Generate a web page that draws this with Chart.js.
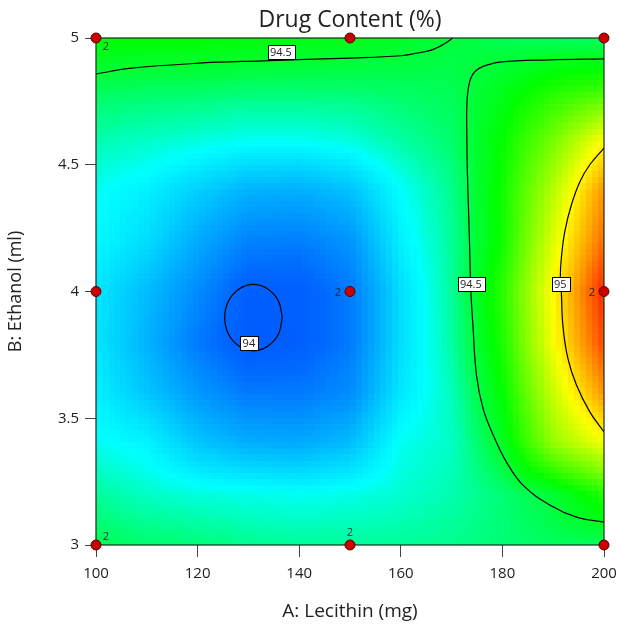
<!DOCTYPE html>
<html>
<head>
<meta charset="utf-8">
<script src="https://cdn.jsdelivr.net/npm/chart.js@4.4.1/dist/chart.umd.min.js"></script>
<style>
  html, body { margin: 0; padding: 0; background: #fff; }
  #wrap { width: 619px; height: 624px; }
</style>
</head>
<body>
<div id="wrap"><canvas id="chart" width="619" height="624"></canvas></div>
<script>
// grid of the response surface
const lecithin = [100, 110, 120, 130, 140, 150, 160, 170, 180, 190, 200];
const ethanol = [3.0, 3.2, 3.4, 3.6, 3.8, 4.0, 4.2, 4.4, 4.6, 4.8, 5.0];
// one row per ethanol level (bottom to top), one column per lecithin level
const drugContent = [
    [94.48, 94.46, 94.45, 94.43, 94.42, 94.42, 94.42, 94.43, 94.45, 94.47, 94.47],
    [94.42, 94.38, 94.36, 94.35, 94.34, 94.35, 94.37, 94.40, 94.45, 94.51, 94.63],
    [94.34, 94.31, 94.21, 94.16, 94.15, 94.19, 94.34, 94.38, 94.53, 94.81, 94.95],
    [94.30, 94.21, 94.11, 94.04, 94.04, 94.08, 94.28, 94.39, 94.58, 94.89, 95.15],
    [94.28, 94.17, 94.04, 93.94, 93.96, 94.04, 94.26, 94.41, 94.62, 94.96, 95.28],
    [94.28, 94.19, 94.08, 93.96, 93.96, 94.04, 94.26, 94.42, 94.64, 94.98, 95.33],
    [94.32, 94.26, 94.15, 94.06, 94.05, 94.10, 94.30, 94.42, 94.60, 94.92, 95.22],
    [94.34, 94.30, 94.23, 94.17, 94.16, 94.20, 94.33, 94.43, 94.60, 94.86, 95.15],
    [94.40, 94.38, 94.36, 94.34, 94.34, 94.36, 94.41, 94.46, 94.58, 94.76, 94.97],
    [94.48, 94.47, 94.47, 94.46, 94.46, 94.46, 94.47, 94.48, 94.54, 94.62, 94.66],
    [94.58, 94.58, 94.58, 94.57, 94.56, 94.55, 94.53, 94.50, 94.48, 94.47, 94.46]
];

// colour scale of the surface
const stopValues = [93.90, 94.00, 94.15, 94.33, 94.50, 94.58, 94.97, 95.15, 95.33];
const stopColors = [
    [0, 80, 255], [0, 105, 255], [0, 170, 255], [0, 255, 255],
    [0, 255, 60], [0, 255, 0], [255, 255, 0], [255, 150, 0], [255, 40, 0]
];

// contour lines
const contour945Top = [[100, 4.858], [106.6, 4.88], [119.7, 4.90], [132.8, 4.91], [150, 4.921],
    [160, 4.93], [163.1, 4.94], [166, 4.952], [167.7, 4.967], [169.2, 4.985], [170.2, 5.0]];
const contour945Right = [[200, 4.918], [189.4, 4.914], [179.5, 4.905], [176.2, 4.888], [174.6, 4.868],
    [173.8, 4.842], [173.3, 4.803], [173.0, 4.737], [173.0, 4.605], [173.1, 4.474], [173.3, 4.343],
    [173.5, 4.211], [173.8, 4.0], [174.2, 3.867], [174.9, 3.669], [176.2, 3.538], [178.2, 3.433],
    [180.8, 3.327], [184.1, 3.235], [189.4, 3.157], [194.6, 3.11], [200, 3.09]];
const contour95 = [[200, 4.566], [197.2, 4.5], [195.3, 4.435], [193.6, 4.343], [192.3, 4.238],
    [191.6, 4.132], [191.4, 4.053], [191.6, 3.998], [191.9, 3.867], [192.9, 3.735], [194.6, 3.63],
    [197.2, 3.525], [200, 3.446]];
const contour94 = [[136.67, 3.897], [135.9, 3.963], [133.8, 4.010], [131.0, 4.028], [128.2, 4.010],
    [126.1, 3.963], [125.33, 3.897], [126.1, 3.831], [128.2, 3.784], [131.0, 3.766], [133.8, 3.784],
    [135.9, 3.831], [136.67, 3.897]];

const contourLabelText = ["94.5", "94", "94.5", "95"];
const contourLabelX = [136.4, 130.1, 173.8, 191.4];
const contourLabelY = [4.945, 3.796, 4.028, 4.028];

// design points and their replicate counts
const designX = [100, 100, 100, 150, 150, 150, 200, 200, 200];
const designY = [3, 4, 5, 3, 4, 5, 3, 4, 5];
const designRuns = [2, 1, 2, 2, 2, 1, 1, 2, 1];

const xTicks = [100, 120, 140, 160, 180, 200];
const yTicks = [3, 3.5, 4, 4.5, 5];
const yTickLabels = ["3", "3.5", "4", "4.5", "5"];

const FONT = "'Open Sans', 'Noto Sans', sans-serif";
// where the replicate count sits next to each design point
const runLabelSide = { 0: "right-up", 2: "right-down", 3: "up", 4: "left", 7: "left" };

function colorFor(v) {
    if (v <= stopValues[0]) return stopColors[0];
    for (let i = 1; i < stopValues.length; i++) {
        if (v <= stopValues[i]) {
            const t = (v - stopValues[i - 1]) / (stopValues[i] - stopValues[i - 1]);
            const a = stopColors[i - 1], b = stopColors[i];
            return [0, 1, 2].map(k => Math.round(a[k] + (b[k] - a[k]) * t));
        }
    }
    return stopColors[stopColors.length - 1];
}

function surfaceAt(xv, yv) {
    const nx = lecithin.length, ny = ethanol.length;
    let fi = (xv - lecithin[0]) / (lecithin[1] - lecithin[0]);
    let fj = (yv - ethanol[0]) / (ethanol[1] - ethanol[0]);
    fi = Math.max(0, Math.min(nx - 1.0001, fi));
    fj = Math.max(0, Math.min(ny - 1.0001, fj));
    const i = Math.floor(fi), j = Math.floor(fj);
    const u = fi - i, w = fj - j;
    const r0 = drugContent[j], r1 = drugContent[j + 1];
    return (r0[i] * (1 - u) + r0[i + 1] * u) * (1 - w) + (r1[i] * (1 - u) + r1[i + 1] * u) * w;
}

const surfacePlugin = {
    id: "surface",
    beforeDatasetsDraw(chart) {
        const { ctx, chartArea: a, scales: { x, y } } = chart;
        const cols = 84, rows = 84;
        const off = document.createElement("canvas");
        off.width = cols;
        off.height = rows;
        const octx = off.getContext("2d");
        const img = octx.createImageData(cols, rows);
        const left = x.getPixelForValue(x.min), right = x.getPixelForValue(x.max);
        const top = y.getPixelForValue(y.max), bottom = y.getPixelForValue(y.min);
        for (let r = 0; r < rows; r++) {
            for (let c = 0; c < cols; c++) {
                const px = left + (c + 0.5) * (right - left) / cols;
                const py = top + (r + 0.5) * (bottom - top) / rows;
                const col = colorFor(surfaceAt(x.getValueForPixel(px), y.getValueForPixel(py)));
                const k = (r * cols + c) * 4;
                img.data[k] = col[0];
                img.data[k + 1] = col[1];
                img.data[k + 2] = col[2];
                img.data[k + 3] = 255;
            }
        }
        octx.putImageData(img, 0, 0);
        ctx.save();
        ctx.imageSmoothingEnabled = false;
        ctx.drawImage(off, left, top, right - left, bottom - top);
        ctx.strokeStyle = "#1a2a1a";
        ctx.lineWidth = 1.2;
        ctx.strokeRect(a.left, a.top, a.width, a.height);
        ctx.restore();
    },
    afterDatasetsDraw(chart) {
        const { ctx, scales: { x, y } } = chart;
        ctx.save();
        ctx.font = "11px " + FONT;
        ctx.textAlign = "center";
        ctx.textBaseline = "middle";
        contourLabelText.forEach((t, i) => {
            const px = x.getPixelForValue(contourLabelX[i]);
            const py = y.getPixelForValue(contourLabelY[i]);
            const w = ctx.measureText(t).width + 5;
            const h = 14;
            ctx.fillStyle = "#fff";
            ctx.fillRect(Math.round(px - w / 2) + 0.5, Math.round(py - h / 2) + 0.5, Math.round(w), h);
            ctx.strokeStyle = "#000";
            ctx.lineWidth = 1;
            ctx.strokeRect(Math.round(px - w / 2) + 0.5, Math.round(py - h / 2) + 0.5, Math.round(w), h);
            ctx.fillStyle = "#222";
            ctx.fillText(t, px, py + 0.5);
        });
        ctx.font = "11px " + FONT;
        ctx.fillStyle = "#1a2a30";
        designRuns.forEach((n, i) => {
            if (n < 2) return;
            const px = x.getPixelForValue(designX[i]);
            const py = y.getPixelForValue(designY[i]);
            const side = runLabelSide[i];
            let dx = 0, dy = 0;
            if (side === "right-up") { dx = 10; dy = -8; }
            if (side === "right-down") { dx = 10; dy = 9; }
            if (side === "up") { dx = 0; dy = -12; }
            if (side === "left") { dx = -12; dy = 1; }
            ctx.fillText(String(n), px + dx, py + dy);
        });
        ctx.restore();
    }
};

const contourStyle = {
    type: "line",
    showLine: true,
    borderColor: "#000",
    borderWidth: 1.2,
    pointRadius: 0,
    tension: 0.4,
    fill: false,
    order: 1
};

new Chart(document.getElementById("chart"), {
    type: "scatter",
    data: {
        datasets: [
            {
                label: "design points",
                data: designX.map((v, i) => ({ x: v, y: designY[i] })),
                pointRadius: 5,
                pointBackgroundColor: "#c80000",
                pointBorderColor: "#5a0000",
                pointBorderWidth: 1,
                clip: false,
                order: 0
            },
            { ...contourStyle, label: "94.5", data: contour945Top.map(p => ({ x: p[0], y: p[1] })) },
            { ...contourStyle, label: "94.5", data: contour945Right.map(p => ({ x: p[0], y: p[1] })) },
            { ...contourStyle, label: "95", data: contour95.map(p => ({ x: p[0], y: p[1] })) },
            { ...contourStyle, label: "94", data: contour94.map(p => ({ x: p[0], y: p[1] })) }
        ]
    },
    options: {
        responsive: false,
        animation: false,
        devicePixelRatio: 1,
        layout: { padding: { left: 0, right: 15, top: 0, bottom: 0 } },
        plugins: {
            legend: { display: false },
            tooltip: { enabled: false },
            title: {
                display: true,
                text: "Drug Content (%)",
                fullSize: false,
                color: "#222",
                font: { family: FONT, size: 23, weight: "normal" },
                padding: { top: 7, bottom: 3.4 }
            }
        },
        scales: {
            x: {
                type: "linear",
                min: 100,
                max: 200,
                afterBuildTicks: s => { s.ticks = xTicks.map(v => ({ value: v })); },
                afterFit: s => { s.height = 79; s.paddingLeft = 0; s.paddingRight = 0; },
                ticks: { color: "#222", padding: 8, maxRotation: 0, font: { family: FONT, size: 15 } },
                grid: { drawOnChartArea: false, tickLength: 12, color: "#444" },
                border: { display: false },
                title: {
                    display: true,
                    text: "A: Lecithin (mg)",
                    color: "#222",
                    font: { family: FONT, size: 19 },
                    padding: { top: 0, bottom: 0.6 }
                }
            },
            y: {
                type: "linear",
                min: 3,
                max: 5,
                afterBuildTicks: s => { s.ticks = yTicks.map(v => ({ value: v })); },
                afterFit: s => { s.width = 96; s.paddingTop = 0; s.paddingBottom = 0; },
                ticks: {
                    color: "#222",
                    padding: 6,
                    font: { family: FONT, size: 15 },
                    callback: v => yTickLabels[yTicks.indexOf(v)]
                },
                grid: { drawOnChartArea: false, tickLength: 11, color: "#444" },
                border: { display: false },
                title: {
                    display: true,
                    text: "B: Ethanol (ml)",
                    color: "#222",
                    font: { family: FONT, size: 18 },
                    padding: { top: 5, bottom: 0 }
                }
            }
        }
    },
    plugins: [surfacePlugin]
});
</script>
</body>
</html>
